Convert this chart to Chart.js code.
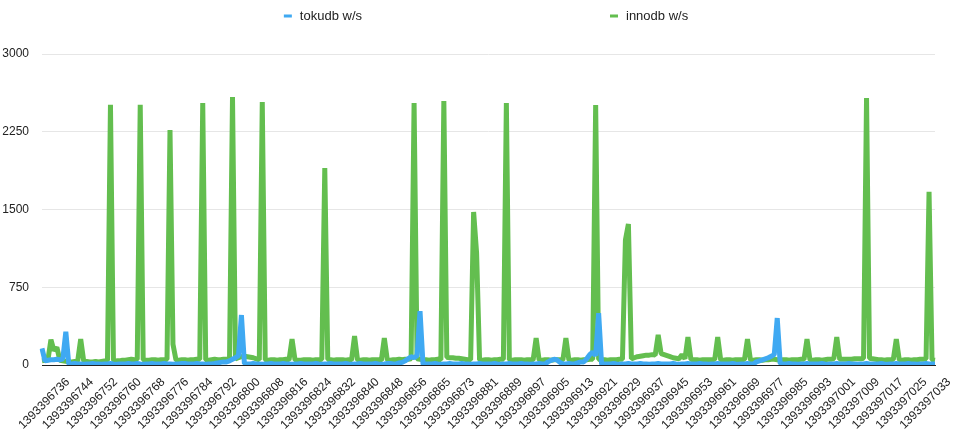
<!DOCTYPE html>
<html>
<head>
<meta charset="utf-8">
<script src="https://cdn.jsdelivr.net/npm/chart.js@4"></script>
<style>
  html, body { margin: 0; padding: 0; background: #fff; }
  #wrap { width: 962px; height: 448px; position: relative; }
</style>
</head>
<body>
<div id="wrap"><canvas id="rates"></canvas></div>
<script>
// unix timestamps, one per second, one second missing in the log
var firstTime = 1393396732;
var lastTime = 1393397033;
var missingTimes = [1393396861];

// labels that are printed under the axis
var shownTicks = ['1393396736', '1393396744', '1393396752', '1393396760', '1393396768', '1393396776',
  '1393396784', '1393396792', '1393396800', '1393396808', '1393396816', '1393396824', '1393396832',
  '1393396840', '1393396848', '1393396856', '1393396865', '1393396873', '1393396881', '1393396889',
  '1393396897', '1393396905', '1393396913', '1393396921', '1393396929', '1393396937', '1393396945',
  '1393396953', '1393396961', '1393396969', '1393396977', '1393396985', '1393396993', '1393397001',
  '1393397009', '1393397017', '1393397025', '1393397033'];

var tokudbWrites = [
  160, 40, 45, 50, 50, 55, 50, 60, 320, 10,
  10, 14, 10, 10, 7, 10, 10, 14, 10, 10,
  7, 10, 10, 14, 10, 7, 10, 10, 10, 14,
  10, 10, 14, 10, 7, 10, 10, 14, 10, 10,
  10, 14, 10, 10, 7, 10, 10, 14, 14, 10,
  10, 10, 14, 10, 10, 7, 10, 10, 14, 20,
  25, 30, 30, 40, 55, 70, 90, 482, 14, 10,
  10, 14, 10, 10, 7, 10, 10, 14, 10, 10,
  10, 14, 10, 10, 7, 10, 10, 14, 10, 10,
  10, 10, 14, 10, 7, 10, 10, 14, 10, 10,
  10, 10, 14, 10, 7, 10, 10, 14, 10, 10,
  10, 10, 14, 10, 7, 10, 14, 14, 10, 10,
  20, 25, 40, 60, 80, 70, 90, 520, 7, 10,
  10, 10, 14, 10, 7, 10, 10, 14, 10, 10,
  10, 14, 10, 10, 7, 10, 10, 14, 10, 10,
  10, 10, 14, 10, 7, 10, 10, 14, 10, 10,
  10, 14, 10, 10, 7, 10, 10, 14, 10, 10,
  30, 45, 55, 50, 25, 10, 10, 14, 10, 10,
  20, 30, 30, 60, 100, 125, 90, 500, 7, 10,
  10, 10, 14, 10, 7, 10, 10, 14, 10, 10,
  10, 14, 10, 10, 7, 10, 10, 14, 10, 10,
  10, 10, 14, 10, 7, 10, 10, 14, 10, 10,
  10, 14, 10, 10, 7, 10, 10, 14, 10, 10,
  10, 10, 14, 10, 7, 10, 10, 14, 10, 10,
  30, 40, 50, 60, 70, 85, 100, 453, 14, 10,
  10, 14, 10, 10, 7, 10, 10, 14, 10, 10,
  10, 10, 14, 10, 7, 10, 10, 14, 10, 10,
  10, 14, 10, 10, 7, 10, 10, 14, 10, 10,
  10, 10, 14, 10, 7, 10, 10, 14, 10, 10,
  10, 14, 10, 10, 7, 10, 10, 14, 10, 10,
  10
];

var innodbWrites = [
  40, 45, 50, 245, 140, 170, 45, 40, 35, 30,
  30, 35, 40, 250, 40, 35, 30, 30, 35, 30,
  35, 40, 45, 2510, 45, 40, 40, 45, 45, 50,
  55, 50, 55, 2510, 50, 45, 45, 50, 50, 45,
  50, 50, 55, 2267, 200, 50, 45, 50, 50, 45,
  50, 50, 55, 55, 2527, 50, 45, 50, 55, 50,
  50, 55, 55, 60, 2585, 60, 70, 80, 85, 80,
  75, 70, 60, 50, 2537, 50, 45, 50, 50, 45,
  50, 50, 55, 50, 250, 50, 45, 45, 50, 50,
  50, 45, 50, 50, 55, 1900, 55, 50, 45, 50,
  50, 50, 45, 50, 50, 280, 50, 45, 50, 50,
  45, 50, 50, 50, 45, 260, 50, 45, 50, 50,
  55, 50, 55, 55, 60, 2527, 60, 55, 50, 50,
  45, 50, 50, 55, 50, 2547, 75, 70, 70, 65,
  65, 60, 55, 50, 50, 1476, 1080, 50, 45, 50,
  50, 45, 50, 50, 55, 55, 2527, 50, 45, 50,
  50, 50, 45, 50, 50, 50, 260, 50, 45, 50,
  50, 45, 50, 50, 50, 50, 260, 50, 45, 50,
  50, 45, 50, 50, 55, 55, 2508, 55, 50, 50,
  45, 50, 50, 50, 55, 55, 1206, 1360, 60, 70,
  80, 85, 90, 95, 95, 100, 95, 290, 110, 100,
  90, 80, 70, 65, 60, 100, 60, 270, 55, 50,
  50, 45, 50, 50, 50, 50, 55, 270, 50, 45,
  50, 50, 45, 50, 50, 50, 55, 250, 50, 45,
  50, 50, 45, 50, 50, 55, 55, 50, 45, 50,
  50, 45, 50, 50, 50, 55, 55, 250, 50, 45,
  50, 50, 45, 50, 55, 55, 60, 270, 55, 55,
  55, 55, 55, 60, 60, 60, 65, 2575, 65, 60,
  55, 50, 50, 45, 50, 50, 55, 250, 50, 45,
  50, 50, 45, 50, 50, 55, 55, 60, 1670, 50,
  45
];

var yTicks = [0, 750, 1500, 2250, 3000];

var times = [];
for (var t = firstTime; t <= lastTime; t++) {
  if (missingTimes.indexOf(t) < 0) times.push(String(t));
}

var font = '"Liberation Sans", Arial, sans-serif';
Chart.defaults.font.family = font;
Chart.defaults.color = '#222';

// legend drawn by hand: two entries spread wide at the top
var topLegend = {
  id: 'topLegend',
  afterDraw: function (chart) {
    var c = chart.ctx;
    var sets = chart.data.datasets;
    var mark = 8, space = 8, gap = 248;
    c.save();
    c.font = '13px ' + font;
    c.textBaseline = 'middle';
    var widths = sets.map(function (d) { return mark + space + c.measureText(d.label).width; });
    var total = widths.reduce(function (a, b) { return a + b; }, 0) + gap * (sets.length - 1);
    var x = (chart.width - total) / 2 + 5;
    var y = 16;
    sets.forEach(function (d, i) {
      c.fillStyle = d.borderColor;
      c.fillRect(x, y - 1.5, mark, 3);
      c.fillStyle = '#222';
      c.fillText(d.label, x + mark + space, y);
      x += widths[i] + gap;
    });
    c.restore();
  }
};

var ctx = document.getElementById('rates');
var chart = new Chart(ctx, {
  type: 'line',
  data: {
    labels: times,
    datasets: [{
      label: 'tokudb w/s',
      data: tokudbWrites,
      borderColor: '#3fa9f2',
      backgroundColor: '#3fa9f2',
      borderWidth: 5,
      pointRadius: 0,
      tension: 0,
      borderJoinStyle: 'bevel'
    }, {
      label: 'innodb w/s',
      data: innodbWrites,
      borderColor: '#63be4f',
      backgroundColor: '#63be4f',
      borderWidth: 5,
      pointRadius: 0,
      tension: 0,
      borderJoinStyle: 'bevel'
    }]
  },
  options: {
    responsive: true,
    maintainAspectRatio: false,
    animation: false,
    layout: { padding: { top: 54, right: 27, left: 0, bottom: 0 } },
    plugins: {
      legend: { display: false },
      tooltip: { enabled: false }
    },
    scales: {
      x: {
        grid: { display: false, drawTicks: false },
        border: { display: true, color: '#222', width: 1 },
        ticks: {
          autoSkip: false,
          maxRotation: 45,
          minRotation: 45,
          padding: 10,
          labelOffset: 14,
          font: { size: 12 },
          callback: function (value, index) {
            var lab = this.getLabelForValue(value);
            return shownTicks.indexOf(lab) >= 0 ? lab : '';
          }
        },
        afterFit: function (scale) { scale.height = 83; }
      },
      y: {
        min: 0,
        max: 3000,
        grid: { color: '#e6e6e6', drawTicks: false },
        border: { display: false },
        ticks: {
          padding: 13,
          font: { size: 12 },
          callback: function (value) { return yTicks.indexOf(value) >= 0 ? value : null; },
          stepSize: 750
        },
        afterFit: function (scale) { scale.width = 42; }
      }
    }
  },
  plugins: [topLegend]
});
</script>
</body>
</html>
